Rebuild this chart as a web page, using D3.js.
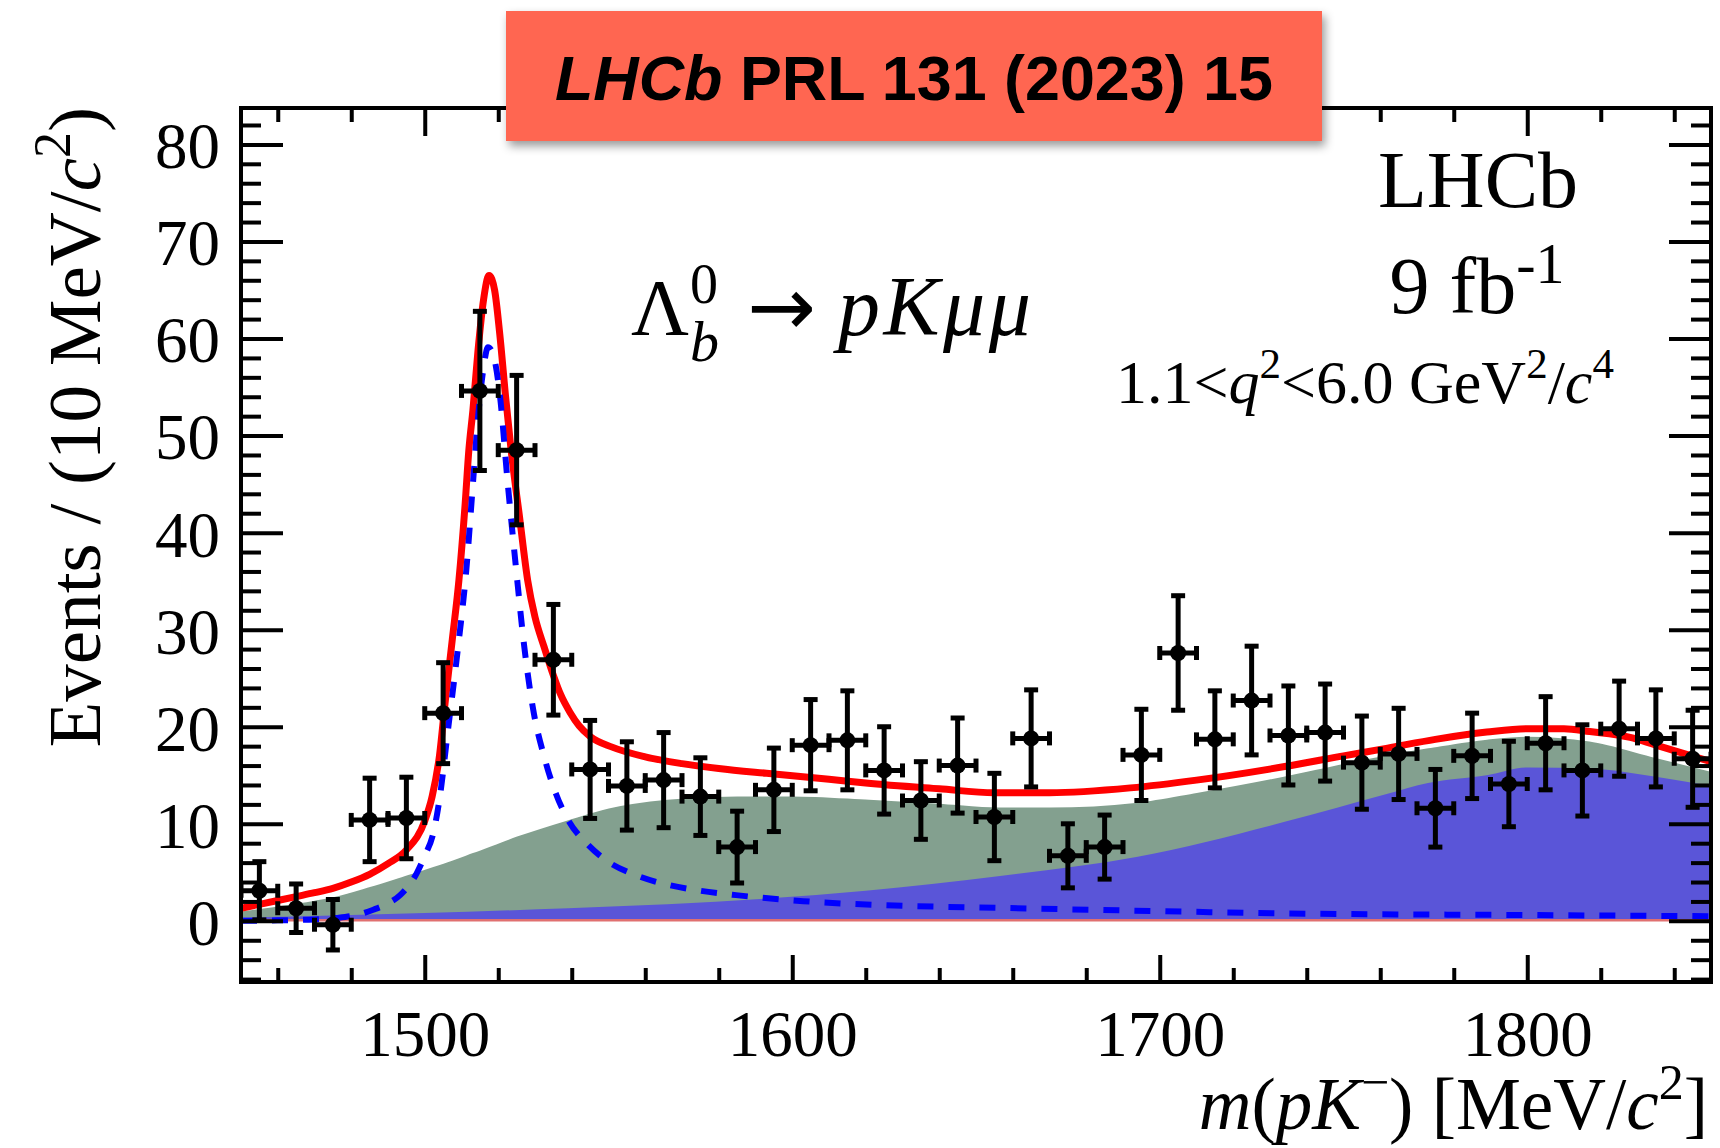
<!DOCTYPE html>
<html><head><meta charset="utf-8">
<script src="https://cdn.jsdelivr.net/npm/d3@7"></script>
<style>body{margin:0;background:#fff} svg{display:block}</style>
</head><body>
<svg id="c" width="1720" height="1148"></svg>
<script>
// ---- data ----
const binCenters = [1455,1465,1475,1485,1495,1505,1515,1525,1535,1545,1555,1565,1575,1585,1595,1605,1615,1625,1635,1645,1655,1665,1675,1685,1695,1705,1715,1725,1735,1745,1755,1765,1775,1785,1795,1805,1815,1825,1835,1845];
const counts = [3.1,1.3,-0.4,10.4,10.6,21.4,54.6,48.5,26.9,15.6,13.9,14.5,12.8,7.6,13.5,18.1,18.6,15.5,12.4,16.0,10.7,18.8,6.7,7.6,17.1,27.6,18.7,22.7,19.1,19.4,16.3,17.2,11.6,17.0,14.1,18.3,15.5,19.8,18.8,16.7];
const errors = [3.0,2.5,2.6,4.3,4.2,5.2,8.2,7.7,5.7,5.05,4.55,4.9,4.0,3.7,4.3,4.7,5.1,4.5,4.0,4.9,4.5,5.0,3.3,3.3,4.7,5.9,5.0,5.6,5.1,5.0,4.8,4.7,4.0,4.4,4.4,4.8,4.7,4.9,5.0,5.0];

// total fit (red)
const totalMass = [1450,1455,1460,1465,1470,1475,1480,1485,1490,1495,1500,1502,1504,1505.6,1507.5,1509.3,1511,1512,1513.1,1514.5,1516,1517.5,1519,1520.4,1522,1523.5,1525.8,1528,1530,1532.5,1535,1537,1539.5,1542,1545,1551,1560,1570,1580,1593,1610,1620,1640,1655,1670,1692,1710,1734,1750,1762,1775,1789,1800,1810,1817,1828,1835,1842,1850];
const totalFit = [1.3,1.7,2.1,2.5,2.9,3.35,4.0,4.8,5.9,7.3,10.3,12.8,17.0,22.7,29.0,35.1,43.0,48.5,52.6,58.8,64.0,66.5,65.0,60.5,54.0,48.5,41.6,35.1,31.3,28.2,25.3,23.3,21.5,20.1,19.0,17.9,16.9,16.2,15.7,15.2,14.6,14.2,13.6,13.2,13.2,13.7,14.5,15.9,17.0,17.8,18.7,19.45,19.8,19.8,19.5,18.9,18.1,17.3,16.4];

// total background (green, top edge)
const bkgMass = [1450,1460,1470,1475,1485,1495,1505,1513,1525,1539,1550,1566,1585,1600,1621,1640,1656,1670,1694,1710,1734,1750,1762,1773,1789,1800,1817,1835,1850];
const bkgTop = [1.1,1.6,2.2,2.55,3.6,4.8,6.0,7.1,8.8,10.5,11.7,12.6,12.95,12.95,12.6,12.2,11.8,11.8,12.3,13.3,15.0,16.3,17.2,17.9,18.8,19.1,18.6,16.9,15.5];

// combinatorial-like component (blue fill, top edge)
const combMass = [1450,1475,1500,1539,1566,1593,1620,1656,1694,1734,1762,1773,1789,1800,1817,1835,1850];
const combTop = [0.35,0.55,0.8,1.3,1.7,2.3,3.1,4.6,6.6,10.2,13.1,14.2,15.0,15.8,15.7,14.84,13.9];

// small component along zero (thin red)
const misidMass = [1450,1850];
const misidTop = [0.05,0.05];

// signal (blue dashed)
const sigMass = [1450,1460,1470,1476,1482,1486,1490,1493.3,1497.8,1500,1502.3,1504,1506.3,1509,1511.3,1513.1,1514.5,1516,1517.2,1518.5,1520.4,1522.6,1524.9,1527,1529.4,1532.5,1535.7,1539,1544,1549.3,1557.5,1566.6,1575,1584.7,1603,1630,1651,1700,1735,1800,1850];
const sigFit = [0.0,0.05,0.15,0.3,0.65,1.15,1.8,2.65,4.9,6.7,9.0,12.5,19.6,28.0,36.1,45.0,51.9,57.0,59.1,58.5,54.3,45.0,36.1,28.5,22.0,16.9,13.1,10.4,8.0,6.25,4.7,3.68,3.1,2.65,2.03,1.55,1.38,1.0,0.76,0.6,0.48];

// ticks
const xMajorTicks = [1500,1600,1700,1800];
const xTickLabels = ["1500","1600","1700","1800"];
const xMinorTicks = [1460,1480,1520,1540,1560,1580,1620,1640,1660,1680,1720,1740,1760,1780,1820,1840];
const yMajorTicks = [0,10,20,30,40,50,60,70,80];
const yTickLabels = ["0","10","20","30","40","50","60","70","80"];
const yMinorTicks = [-6,-4,-2,2,4,6,8,12,14,16,18,22,24,26,28,32,34,36,38,42,44,46,48,52,54,56,58,62,64,66,68,72,74,76,78,82];

// ---- layout ----
const L = 241, R = 1711, T = 108, B = 982;
const SERIF = "'Liberation Serif','Times New Roman',Times,serif";
const SANS = "'Liberation Sans',Arial,Helvetica,sans-serif";

const svg = d3.select("#c");
const x = d3.scaleLinear().domain([1450,1850]).range([L,R]);
const y = d3.scaleLinear().domain([-6.3,83.75]).range([B,T]);

const defs = svg.append("defs");
defs.append("clipPath").attr("id","plotclip").append("rect")
  .attr("x",L).attr("y",T).attr("width",R-L).attr("height",B-T);
const f = defs.append("filter").attr("id","shadow").attr("x","-10%").attr("y","-20%").attr("width","130%").attr("height","160%");
f.append("feDropShadow").attr("dx",3).attr("dy",5).attr("stdDeviation",5).attr("flood-color","#000").attr("flood-opacity",0.4);

const plot = svg.append("g").attr("clip-path","url(#plotclip)");

const zip = (xs, ys) => xs.map((m,i)=>({m, v: ys[i]}));

// fills
plot.append("path").datum(zip(bkgMass,bkgTop))
  .attr("d", d3.area().x(d=>x(d.m)).y0(y(0)).y1(d=>y(d.v)).curve(d3.curveMonotoneX))
  .attr("fill","#83a08f");
plot.append("path").datum(zip(combMass,combTop))
  .attr("d", d3.area().x(d=>x(d.m)).y0(y(0)).y1(d=>y(d.v)).curve(d3.curveMonotoneX))
  .attr("fill","#5a55d8");
plot.append("path").datum(zip(misidMass,misidTop))
  .attr("d", d3.line().x(d=>x(d.m)).y(d=>y(d.v)))
  .attr("fill","none").attr("stroke","#e07070").attr("stroke-width",2.5);
// white edge on top of background
plot.append("path").datum(zip(bkgMass,bkgTop))
  .attr("d", d3.line().x(d=>x(d.m)).y(d=>y(d.v)).curve(d3.curveMonotoneX))
  .attr("fill","none").attr("stroke","#fff").attr("stroke-width",2.5);

// total fit
plot.append("path").datum(zip(totalMass,totalFit))
  .attr("d", d3.line().x(d=>x(d.m)).y(d=>y(d.v)).curve(d3.curveMonotoneX))
  .attr("fill","none").attr("stroke","#ff0000").attr("stroke-width",7).attr("stroke-linejoin","round");
// signal dashed
plot.append("path").datum(zip(sigMass,sigFit))
  .attr("d", d3.line().x(d=>x(d.m)).y(d=>y(d.v)).curve(d3.curveMonotoneX))
  .attr("fill","none").attr("stroke","#0000ff").attr("stroke-width",6).attr("stroke-dasharray","16 15");

// data points
const pts = plot.append("g").attr("stroke","#000").attr("stroke-width",5).attr("fill","#000");
binCenters.forEach((c,i)=>{
  const v = counts[i], e = errors[i];
  const g = pts.append("g");
  const cx = x(c), cy = y(v), y1 = y(v+e), y2 = y(v-e), x1 = x(c-5), x2 = x(c+5);
  g.append("line").attr("x1",cx).attr("x2",cx).attr("y1",y1).attr("y2",y2);
  g.append("line").attr("x1",cx-7).attr("x2",cx+7).attr("y1",y1).attr("y2",y1);
  g.append("line").attr("x1",cx-7).attr("x2",cx+7).attr("y1",y2).attr("y2",y2);
  g.append("line").attr("x1",x1).attr("x2",x2).attr("y1",cy).attr("y2",cy);
  g.append("line").attr("x1",x1).attr("x2",x1).attr("y1",cy-7).attr("y2",cy+7);
  g.append("line").attr("x1",x2).attr("x2",x2).attr("y1",cy-7).attr("y2",cy+7);
  g.append("circle").attr("cx",cx).attr("cy",cy).attr("r",8).attr("stroke","none");
});

// axes
function styleAxis(g){
  g.select(".domain").remove();
  g.selectAll(".tick line").attr("stroke","#000").attr("stroke-width",4);
  g.attr("font-family",SERIF).attr("font-size",65);
  g.selectAll(".tick text").attr("fill","#000");
}
const fmtX = d => xTickLabels[xMajorTicks.indexOf(d)];
const fmtY = d => yTickLabels[yMajorTicks.indexOf(d)];

svg.append("g").attr("transform",`translate(0,${B})`)
  .call(d3.axisBottom(x).tickValues(xMajorTicks).tickSizeInner(-27).tickSizeOuter(0).tickPadding(28).tickFormat(fmtX)).call(styleAxis);
svg.append("g").attr("transform",`translate(0,${B})`)
  .call(d3.axisBottom(x).tickValues(xMinorTicks).tickSizeInner(-14).tickSizeOuter(0).tickFormat("")).call(styleAxis);
svg.append("g").attr("transform",`translate(0,${T})`)
  .call(d3.axisTop(x).tickValues(xMajorTicks).tickSizeInner(-28).tickSizeOuter(0).tickFormat("")).call(styleAxis);
svg.append("g").attr("transform",`translate(0,${T})`)
  .call(d3.axisTop(x).tickValues(xMinorTicks).tickSizeInner(-14).tickSizeOuter(0).tickFormat("")).call(styleAxis);

const ly = svg.append("g").attr("transform",`translate(${L},0)`)
  .call(d3.axisLeft(y).tickValues(yMajorTicks).tickSizeInner(-42).tickSizeOuter(0).tickPadding(21).tickFormat(fmtY)).call(styleAxis);
ly.selectAll(".tick text").attr("dy","0.36em");
svg.append("g").attr("transform",`translate(${L},0)`)
  .call(d3.axisLeft(y).tickValues(yMinorTicks).tickSizeInner(-20).tickSizeOuter(0).tickFormat("")).call(styleAxis);
svg.append("g").attr("transform",`translate(${R},0)`)
  .call(d3.axisRight(y).tickValues(yMajorTicks).tickSizeInner(-42).tickSizeOuter(0).tickFormat("")).call(styleAxis);
svg.append("g").attr("transform",`translate(${R},0)`)
  .call(d3.axisRight(y).tickValues(yMinorTicks).tickSizeInner(-20).tickSizeOuter(0).tickFormat("")).call(styleAxis);

// frame
svg.append("rect").attr("x",L).attr("y",T).attr("width",R-L).attr("height",B-T)
  .attr("fill","none").attr("stroke","#000").attr("stroke-width",4);

// axis titles
const xt = svg.append("text").attr("x",1708).attr("y",1129).attr("text-anchor","end")
  .attr("font-family",SERIF).attr("font-size",73).attr("fill","#000");
xt.append("tspan").attr("font-style","italic").text("m");
xt.append("tspan").text("(");
xt.append("tspan").attr("font-style","italic").text("pK");
xt.append("tspan").attr("font-size",50).attr("dy",-30).text("\u2212");
xt.append("tspan").attr("dy",30).text(") [MeV/");
xt.append("tspan").attr("font-style","italic").text("c");
xt.append("tspan").attr("font-size",50).attr("dy",-30).text("2");
xt.append("tspan").attr("dy",30).text("]");

const yt = svg.append("text").attr("transform","translate(100,107) rotate(-90)").attr("text-anchor","end")
  .attr("font-family",SERIF).attr("font-size",75).attr("fill","#000");
yt.append("tspan").text("Events / (10 MeV/");
yt.append("tspan").attr("font-style","italic").text("c");
yt.append("tspan").attr("font-size",52).attr("dy",-30).text("2");
yt.append("tspan").attr("dy",30).text(")");

// annotations
svg.append("text").attr("x",1478).attr("y",207).attr("text-anchor","middle")
  .attr("font-family",SERIF).attr("font-size",80).attr("fill","#000").text("LHCb");
const lumi = svg.append("text").attr("x",1477).attr("y",313).attr("text-anchor","middle")
  .attr("font-family",SERIF).attr("font-size",80).attr("fill","#000");
lumi.append("tspan").text("9 fb");
lumi.append("tspan").attr("font-size",58).attr("dy",-30).text("-1");

const q2 = svg.append("text").attr("x",1365).attr("y",403).attr("text-anchor","middle")
  .attr("font-family",SERIF).attr("font-size",62).attr("fill","#000");
q2.append("tspan").text("1.1<");
q2.append("tspan").attr("font-style","italic").text("q");
q2.append("tspan").attr("font-size",43).attr("dy",-25).text("2");
q2.append("tspan").attr("dy",25).text("<6.0 GeV");
q2.append("tspan").attr("font-size",43).attr("dy",-25).text("2");
q2.append("tspan").attr("dy",25).text("/");
q2.append("tspan").attr("font-style","italic").text("c");
q2.append("tspan").attr("font-size",43).attr("dy",-25).text("4");

svg.append("text").attr("x",631).attr("y",335).attr("font-family",SERIF).attr("font-size",80).attr("fill","#000").text("\u039B");
svg.append("text").attr("x",690).attr("y",303).attr("font-family",SERIF).attr("font-size",56).attr("fill","#000").text("0");
svg.append("text").attr("x",690).attr("y",361).attr("font-family",SERIF).attr("font-size",58).attr("font-style","italic").attr("fill","#000").text("b");
svg.append("text").attr("x",747).attr("y",335).attr("font-family","'DejaVu Sans',sans-serif").attr("font-size",82).attr("fill","#000").text("\u2192");
svg.append("text").attr("x",838).attr("y",335).attr("font-family",SERIF).attr("font-size",84).attr("font-style","italic").attr("fill","#000")
  .attr("textLength",193).attr("lengthAdjust","spacing").text("pK\u03BC\u03BC");

// banner
svg.append("rect").attr("x",506).attr("y",11).attr("width",816).attr("height",130)
  .attr("fill","#ff6651").attr("filter","url(#shadow)");
const bt = svg.append("text").attr("x",914).attr("y",100).attr("text-anchor","middle")
  .attr("font-family",SANS).attr("font-weight","bold").attr("font-size",63).attr("fill","#000")
  .attr("textLength",718).attr("lengthAdjust","spacingAndGlyphs");
bt.append("tspan").attr("font-style","italic").text("LHCb");
bt.append("tspan").text(" PRL 131 (2023) 15");
</script>
</body></html>
